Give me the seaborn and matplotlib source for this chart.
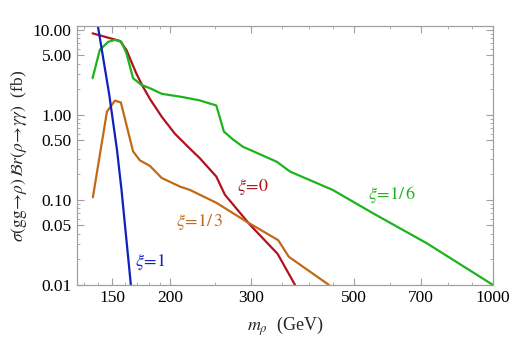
import numpy as np
import pandas as pd
import matplotlib
matplotlib.use("Agg")
import matplotlib.pyplot as plt
import matplotlib.ticker as mticker
import seaborn as sns

# --- data ---
red_m = [136, 156, 161, 169, 174, 181, 192, 205, 221, 232, 252, 263, 298, 342, 373]
red_v = [9.1, 7.4, 5.8, 3.1, 2.25, 1.54, 0.95, 0.60, 0.40, 0.31, 0.188, 0.115, 0.051, 0.0232, 0.010]

green_m = [136, 141, 147, 152, 157, 161, 166.4, 173.6, 181, 192, 213, 232, 252, 261.7, 273.7,
           288, 298, 341, 364, 450, 550, 720, 1000]
green_v = [2.70, 5.82, 7.23, 7.63, 7.23, 5.32, 2.70, 2.25, 2.06, 1.77, 1.62, 1.48, 1.29, 0.636,
           0.515, 0.420, 0.388, 0.280, 0.215, 0.131, 0.0697, 0.0308, 0.010]

orange_m = [136.2, 141.6, 146.1, 152, 156.6, 166.4, 172.2, 181, 191.8, 210.2, 220.9, 252.3,
            293.5, 343, 361.7, 441.6]
orange_v = [0.107, 0.388, 1.093, 1.47, 1.40, 0.372, 0.2915, 0.251, 0.1815, 0.1434, 0.131,
            0.0922, 0.0551, 0.0336, 0.0214, 0.010]

blue_m = [139.5, 147.8, 153.6, 157.1, 164.6]
blue_v = [11.5, 1.72, 0.388, 0.131, 0.010]

x_ticks = [150, 200, 300, 500, 700, 1000]
y_ticks = [0.01, 0.05, 0.10, 0.50, 1.00, 5.00, 10.00]
y_tick_labels = ["0.01", "0.05", "0.10", "0.50", "1.00", "5.00", "10.00"]

series_names = ["xi0", "xi16", "xi13", "xi1"]
labels_text = [r"$\xi\!=\!0$", r"$\xi\!=\!1/\,6$", r"$\xi\!=\!1/\,3$", r"$\xi\!=\!1$"]
label_pos = [(303, 0.143), (604, 0.1145), (232, 0.0556), (181, 0.0188)]
colors = ["#b0141a", "#1db31d", "#c06a18", "#1020c0"]

rows = []
for name, ms, vs in zip(series_names,
                        [red_m, green_m, orange_m, blue_m],
                        [red_v, green_v, orange_v, blue_v]):
    for i, (m, v) in enumerate(zip(ms, vs)):
        rows.append({"series": name, "order": i, "m": m, "v": v})
df = pd.DataFrame(rows)

sns.set_theme(style="ticks")
plt.rcParams["font.family"] = ["Liberation Serif", "DejaVu Serif"]
plt.rcParams["mathtext.fontset"] = "stix"

fig = plt.figure(figsize=(5.15, 3.47), dpi=100)
ax = fig.add_axes([0.150, 0.179, 0.807, 0.746])

for name, c in zip(series_names, colors):
    sub = df[df.series == name]
    sns.lineplot(data=sub, x="m", y="v", sort=False, estimator=None, color=c,
                 lw=1.6, ax=ax, legend=False)

ax.set_xscale("log")
ax.set_yscale("log")
ax.set_xlim(126, 1000)
ax.set_ylim(0.01, 11.1)

ax.xaxis.set_major_locator(mticker.FixedLocator(x_ticks))
ax.xaxis.set_major_formatter(mticker.FixedFormatter([str(t) for t in x_ticks]))
ax.xaxis.set_minor_locator(mticker.FixedLocator(
    [130, 140, 160, 170, 180, 190, 250, 350, 400, 450, 600, 800, 900]))
ax.xaxis.set_minor_formatter(mticker.NullFormatter())
ax.yaxis.set_major_locator(mticker.FixedLocator(y_ticks))
ax.yaxis.set_major_formatter(mticker.FixedFormatter(y_tick_labels))
ax.yaxis.set_minor_locator(mticker.LogLocator(base=10, subs=np.arange(2, 10)))
ax.yaxis.set_minor_formatter(mticker.NullFormatter())

frame_c = "#a0a0a0"
for s in ax.spines.values():
    s.set_color(frame_c)
    s.set_linewidth(0.9)
    s.set_visible(True)
ax.tick_params(which="both", direction="in", top=True, right=True, color=frame_c,
               labelsize=12.5, labelcolor="black", pad=4)
ax.tick_params(which="major", length=5, width=0.8)
ax.tick_params(which="minor", length=2.5, width=0.6)

for t, (x, y), c in zip(labels_text, label_pos, colors):
    ax.text(x, y, t, color=c, fontsize=13, ha="center", va="center")

ax.set_xlabel(r"$m_\rho$  (GeV)", fontsize=13, labelpad=6)
ax.set_ylabel(r"$\sigma(\mathrm{gg}\!\to\!\rho)\,\mathcal{B}r(\rho\!\to\!\gamma\gamma)$  (fb)",
              fontsize=12.5, labelpad=3)

fig.savefig("out.png", dpi=100)
